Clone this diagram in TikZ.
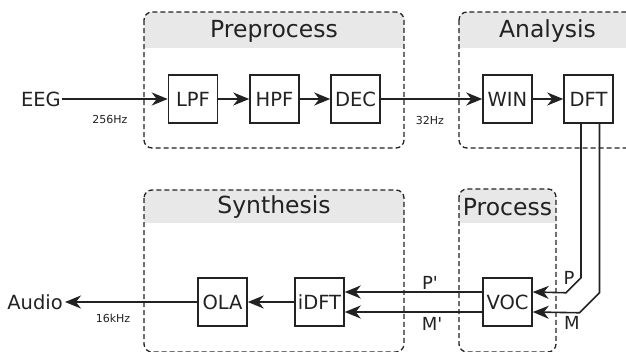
\documentclass[tikz,border=0pt]{standalone}
\usepackage{fontspec}
\setmainfont{DejaVu Sans}
\usetikzlibrary{arrows.meta}
\definecolor{band}{HTML}{E8E8E8}
\definecolor{ink}{HTML}{222222}
\tikzset{
  x=1pt, y=-1pt,
  blockbox/.style={draw=ink, line width=1.5pt, minimum width=49pt, minimum height=48pt, inner sep=0pt, font=\fontsize{19.5}{20}\selectfont, text=ink},
  iolabel/.style={font=\fontsize{19.5}{20}\selectfont, text=ink, inner sep=0pt},
  ratelabel/.style={font=\fontsize{11}{12}\selectfont, text=ink, inner sep=0pt},
  sigl/.style={font=\fontsize{18}{19}\selectfont, text=ink, inner sep=0pt},
  grouptitle/.style={font=\fontsize{23.5}{24}\selectfont, text=ink, inner sep=0pt},
  conn/.style={draw=ink, line width=1.6pt, -{Stealth[length=16pt,width=13pt,inset=5pt]}},
  groupframe/.style={draw=ink, line width=1.3pt, dash pattern=on 5pt off 3pt, rounded corners=8pt},
}
\newcommand{\groupbox}[6]{%
  \begin{scope}
    \clip[rounded corners=8pt] (#1,#2) rectangle (#3,#4);
    \fill[band] (#1,#2) rectangle (#3,#5);
  \end{scope}
  \draw[groupframe] (#1,#2) rectangle (#3,#4);
  \node[grouptitle] at ({(#1+#3)/2},{(#2+#5)/2+1}) {#6};
}
\begin{document}
\begin{tikzpicture}
\clip (0,0) rectangle (626,351);
\useasboundingbox (0,0) rectangle (626,351);
\fill[white] (0,0) rectangle (626,351);

% groups
\groupbox{144}{12}{404}{148}{48}{Preprocess}
\groupbox{459}{12}{636}{148}{48}{Analysis}
\groupbox{144}{190}{404}{352}{223}{Synthesis}
\groupbox{459}{189}{556}{352}{223}{Process}

% blocks
\node[blockbox] (lpf) at (193,99) {LPF};
\node[blockbox] (hpf) at (274.5,99) {HPF};
\node[blockbox] (dec) at (355.5,99) {DEC};
\node[blockbox] (win) at (507.5,99) {WIN};
\node[blockbox] (dft) at (588.5,99) {DFT};
\node[blockbox] (ola) at (222.5,302) {OLA};
\node[blockbox] (idft) at (319.5,302) {iDFT};
\node[blockbox] (voc) at (507.5,302) {VOC};

\node[iolabel, anchor=east] (eeg) at (61,99) {EEG};
\node[iolabel, anchor=east] (audio) at (63,302) {Audio};

% rate labels
\node[ratelabel] (r256) at (110,119) {256Hz};
\node[ratelabel] (r32) at (430,120) {32Hz};
\node[ratelabel] (r16) at (113,318) {16kHz};

% forward chain
\draw[conn] (eeg.east) ++(1,0) -- (lpf.west);
\draw[conn] (lpf) -- (hpf);
\draw[conn] (hpf) -- (dec);
\draw[conn] (dec) -- (win);
\draw[conn] (win) -- (dft);

% DFT to VOC
\draw[conn] ([xshift=-7.5pt]dft.south) -- ++(0,154) -- ++(-15,15) -- ([yshift=10pt]voc.east);
\draw[conn] ([xshift=11pt]dft.south) -- ++(0,169) -- ++(-20,20) -- ([yshift=-10pt]voc.east);
\node[sigl] (plab) at (569,278) {P};
\node[sigl] (mlab) at (572,323) {M};

% VOC to iDFT
\draw[conn] ([yshift=10pt]voc.west) -- ([yshift=10pt]idft.east);
\draw[conn] ([yshift=-10pt]voc.west) -- ([yshift=-10pt]idft.east);
\node[sigl] (pplab) at (430,283) {P\textquotesingle};
\node[sigl] (mplab) at (432,324) {M\textquotesingle};

% synthesis chain
\draw[conn] (idft) -- (ola);
\draw[conn] (ola.west) -- ([xshift=2pt]audio.east);
\end{tikzpicture}
\end{document}
